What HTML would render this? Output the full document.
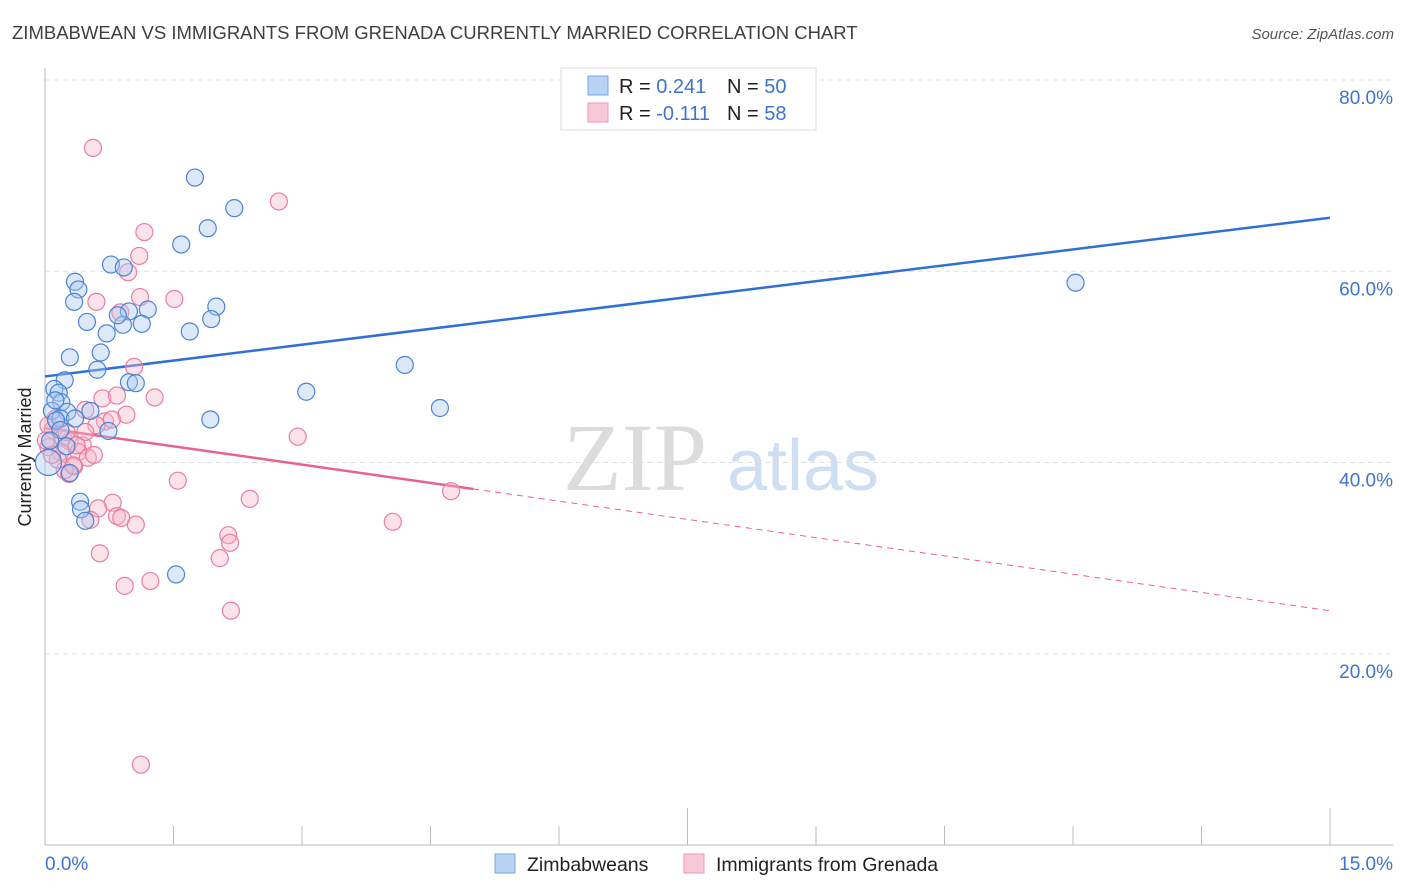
<!DOCTYPE html>
<html><head><meta charset="utf-8"><style>
body{margin:0;background:#fff;}
svg{display:block;font-family:"Liberation Sans",sans-serif;}
</style></head><body>
<svg id="chart" width="1406" height="892" viewBox="0 0 1406 892">
<text x="12" y="39" font-size="18.5" fill="#3f3f3f">ZIMBABWEAN VS IMMIGRANTS FROM GRENADA CURRENTLY MARRIED CORRELATION CHART</text>
<text x="1394" y="39" font-size="15" fill="#555" font-style="italic" text-anchor="end">Source: ZipAtlas.com</text>
<text x="31" y="457" font-size="18" fill="#222" text-anchor="middle" transform="rotate(-90 31 457)">Currently Married</text>
<g>
<text x="635" y="490" font-size="96" fill="#dcdcdc" font-family="Liberation Serif,serif" text-anchor="middle">ZIP</text>
<text x="803" y="490" font-size="72" fill="#cfdff3" text-anchor="middle">atlas</text>
</g>
<g id="grid"></g><g id="axes"></g><g id="trend"></g><g id="pts"></g>
<g>
<rect x="561" y="68" width="255" height="62" fill="#fff" stroke="#ddd"/>
<rect x="588" y="76" width="20" height="19" fill="#b9d3f5" stroke="#7aa6e0"/>
<rect x="588" y="103" width="20" height="19" fill="#f9c8d6" stroke="#ee9ab4"/>
<text x="619" y="93" font-size="20" fill="#222">R = <tspan fill="#3d74cf">0.241</tspan></text>
<text x="727" y="93" font-size="20" fill="#222">N = <tspan fill="#3d74cf">50</tspan></text>
<text x="619" y="120" font-size="20" fill="#222">R = <tspan fill="#3d74cf">-0.111</tspan></text>
<text x="727" y="120" font-size="20" fill="#222">N = <tspan fill="#3d74cf">58</tspan></text>
</g>
<g>
<rect x="495" y="854" width="20" height="19" fill="#b9d3f5" stroke="#7aa6e0"/>
<text x="527" y="871" font-size="19.5" fill="#222">Zimbabweans</text>
<rect x="684" y="854" width="20" height="19" fill="#f9c8d6" stroke="#ee9ab4"/>
<text x="716" y="871" font-size="19.5" fill="#222">Immigrants from Grenada</text>
</g>
</svg>
<script>
const blueX=[1.75,2.21,1.90,1.59,0.77,0.92,0.35,0.39,0.34,2.00,1.20,0.98,0.49,1.13,0.91,1.94,1.69,0.72,0.65,0.29,0.61,4.20,0.98,1.06,0.23,0.11,0.16,3.05,0.19,0.08,4.61,0.53,0.26,0.18,1.93,0.13,0.74,12.03,0.41,0.42,0.47,1.53,0.04,0.29,0.18,0.35,0.06,0.25,0.12,0.85];
const blueY=[69.8,66.6,64.5,62.8,60.7,60.4,58.9,58.1,56.8,56.3,56.0,55.8,54.7,54.5,54.4,55.0,53.7,53.5,51.5,51.0,49.7,50.2,48.4,48.3,48.6,47.7,47.3,47.4,46.3,45.4,45.7,45.4,45.3,44.6,44.5,44.4,43.3,58.8,35.9,35.1,33.9,28.3,40.0,38.9,43.4,44.6,42.3,41.7,46.5,55.4];
const pinkX=[0.56,2.73,1.16,1.10,0.97,0.60,1.11,1.51,0.88,1.04,1.28,0.67,0.84,0.47,0.95,0.70,0.60,0.09,0.21,0.29,0.44,0.39,0.50,0.18,0.34,0.28,2.95,1.55,2.39,4.74,0.79,0.62,0.84,0.89,0.53,1.06,4.06,2.14,2.16,0.64,2.04,0.93,1.23,2.17,1.12,0.04,0.12,0.23,0.33,0.15,0.25,0.47,0.78,0.01,0.08,0.37,0.57,0.04];
const pinkY=[72.9,67.3,64.1,61.6,59.9,56.8,57.3,57.1,55.7,50.0,46.8,46.7,47.0,45.5,45.0,44.3,43.9,43.4,42.6,42.2,41.8,41.1,40.5,41.1,39.6,38.8,42.7,38.1,36.2,37.0,35.8,35.2,34.4,34.2,34.0,33.5,33.8,32.4,31.6,30.5,30.0,27.1,27.6,24.5,8.4,41.6,44.6,39.2,39.7,40.3,43.2,43.2,44.5,42.3,40.8,41.8,40.8,43.9];
const yTicks=[20,40,60,80];
const yTickLabels=["20.0%","40.0%","60.0%","80.0%"];
const xEnds=[0,15];
const xEndLabels=["0.0%","15.0%"];
const blueTrend=[49.0,65.6];
const pinkTrend=[43.6,24.5];
const pinkSolidEnd=5;

const NS="http://www.w3.org/2000/svg";
const X=v=>45+v*(1330-45)/15;
const Y=v=>845-v*(845-80)/80;
function mk(tag,attrs,parent){const e=document.createElementNS(NS,tag);for(const k in attrs)e.setAttribute(k,attrs[k]);parent.appendChild(e);return e;}
const grid=document.getElementById('grid'),axes=document.getElementById('axes'),trend=document.getElementById('trend'),pts=document.getElementById('pts');
yTicks.forEach((t,i)=>{
 const l=mk('line',{x1:45,x2:1393,y1:Y(t),y2:Y(t),stroke:'#e0e0e0','stroke-dasharray':'5,4'},grid);
 
 
 const tx=mk('text',{x:1393,y:Y(t)+24,'font-size':19,fill:'#3d74cf','text-anchor':'end'},axes);
 tx.textContent=yTickLabels[i];
 
 
});
let a=mk('line',{x1:45,x2:45,y1:68,y2:845,stroke:'#bbb'},axes);


a=mk('line',{x1:45,x2:1393,y1:845,y2:845,stroke:'#bbb'},axes);


for(let i=1;i<=10;i++){
 const v=i*1.5;const tk=mk('line',{x1:X(v),x2:X(v),y1:(i==5||i==10)?808:826,y2:845,stroke:'#bbb'},axes);
 
 
}
xEnds.forEach((v,i)=>{
 const tx=mk('text',{x:i==0?45:1393,y:870,'font-size':19,fill:'#3d74cf','text-anchor':i==0?'start':'end'},axes);
 tx.textContent=xEndLabels[i];
 
 
});
function drawPts(xs,ys,fill,stroke,name){
 xs.forEach((x,i)=>{
  const c=mk('circle',{cx:X(x),cy:Y(ys[i]),r:(x<0.06&&name=='zimbabwean')?13:8.5,fill:fill,'fill-opacity':0.4,stroke:stroke,'stroke-width':1.2},pts);
  
  
 });
}
drawPts(pinkX,pinkY,'#f7b6c9','#e97ea0','grenada');
drawPts(blueX,blueY,'#a9c8f0','#4a84d8','zimbabwean');
let t=mk('line',{x1:X(0),y1:Y(blueTrend[0]),x2:X(15),y2:Y(blueTrend[1]),stroke:'#2f6fd6','stroke-width':2.5},trend);


const pm=v=>pinkTrend[0]+(pinkTrend[1]-pinkTrend[0])*v/15;
t=mk('line',{x1:X(0),y1:Y(pm(0)),x2:X(pinkSolidEnd),y2:Y(pm(pinkSolidEnd)),stroke:'#e8628f','stroke-width':2.5},trend);


t=mk('line',{x1:X(pinkSolidEnd),y1:Y(pm(pinkSolidEnd)),x2:X(15),y2:Y(pm(15)),stroke:'#e8628f','stroke-width':1,'stroke-dasharray':'6,5'},trend);


</script>
</body></html>
